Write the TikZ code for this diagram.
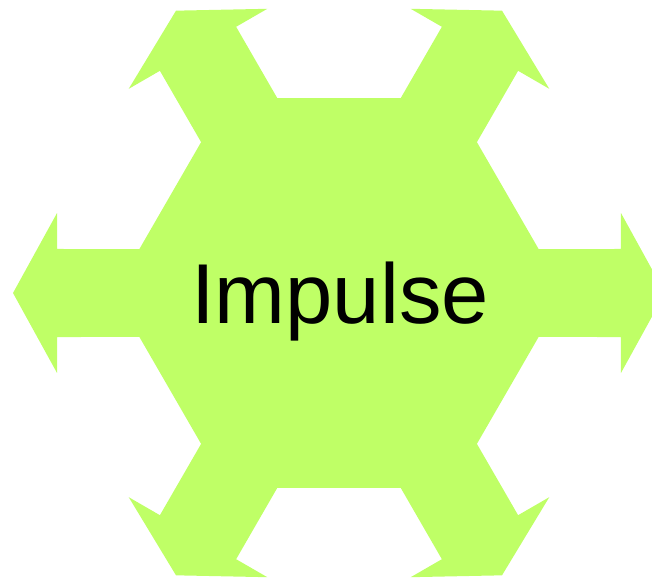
\documentclass[tikz,border=0pt]{standalone}
\usepackage{fontspec}
\newfontfamily\labelfont{Liberation Sans}
\definecolor{impulsegreen}{RGB}{191,255,102}

\begin{document}
\begin{tikzpicture}[x=1pt,y=1pt]
\useasboundingbox (0,0) rectangle (652,579);
\begin{scope}[shift={(339,286)}]
% hexagon with one arrow on each corner
\fill[impulsegreen] (-12.43:204.4)
  \foreach \a in {0,60,...,300} {
    -- (\a-12.43:204.4) -- (\a-8.87:285.4) -- (\a-15.84:293.1)
    -- (\a:326)
    -- (\a+15.84:293.1) -- (\a+8.87:285.4) -- (\a+12.43:204.4)
  } -- cycle;
\end{scope}
\node[font=\labelfont\fontsize{85}{100}\selectfont, anchor=base, inner sep=0pt] (impulse) at (340,256) {Impulse};
\end{tikzpicture}
\end{document}
